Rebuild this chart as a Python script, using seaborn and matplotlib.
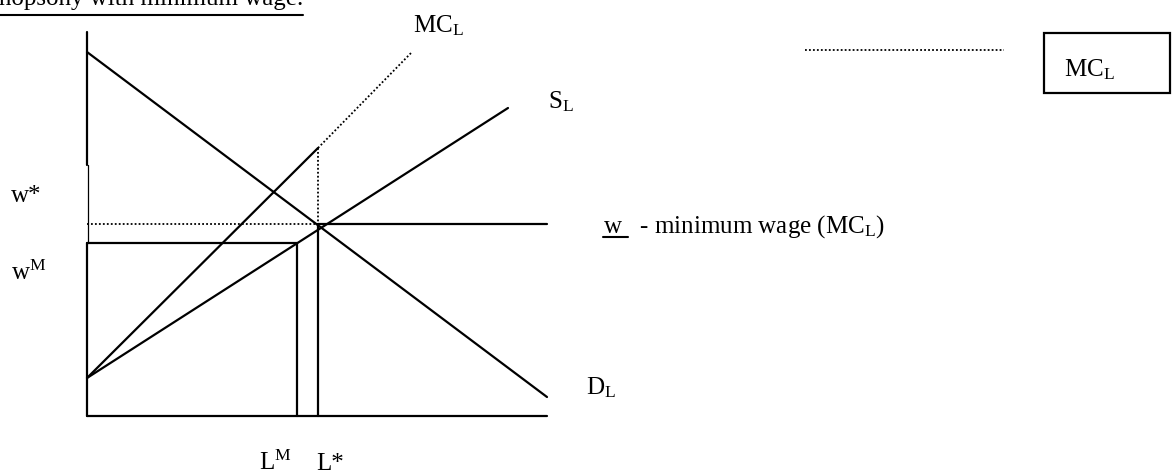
import numpy as np
import pandas as pd
import seaborn as sns
import matplotlib.pyplot as plt
from matplotlib.patches import Rectangle

# monopsony diagram: labour L on x, wage w on y (arbitrary units)
L_max = 46.0
w_top = 38.4
w_thin = 25.1          # y axis is drawn thinner between w_m and this value

demand_L = [0.0, 46.0]
demand_w = [36.4, 1.9]
supply_L = [0.0, 42.1]
supply_w = [3.8, 30.8]
mc_L = [0.0, 23.1]
mc_w = [3.8, 26.8]
mc_dot_L = [23.1, 32.5]
mc_dot_w = [26.8, 36.4]

w_star = 19.2
w_m = 17.3
L_star = 23.1
L_m = 21.0

sns.set_theme(style="white")
plt.rcParams["font.family"] = ["Liberation Serif", "DejaVu Serif"]
plt.rcParams["text.color"] = "black"
plt.rcParams["mathtext.fontset"] = "custom"
plt.rcParams["mathtext.rm"] = "Liberation Serif"
plt.rcParams["mathtext.it"] = "Liberation Serif:italic"

fig = plt.figure(figsize=(11.72, 4.73), dpi=100)
ax = fig.add_axes([0, 0, 1, 1])
# origin of the diagram sits at pixel (87, 416), 10 px per unit
ax.set_xlim(-8.7, 108.5)
ax.set_ylim(-5.7, 41.6)
ax.axis("off")


def px(x, y):
    return (x - 87) / 10, (416 - y) / 10


# solid segments
solid = pd.DataFrame({
    "seg": [0, 0, 1, 1, 2, 2, 3, 3, 4, 4, 5, 5, 6, 6, 7, 7, 8, 8, 9, 9],
    "L": demand_L + supply_L + mc_L
         + [0, L_max] + [0, 0] + [0, 0]
         + [0, L_m] + [L_m, L_m] + [L_star, L_star] + [L_star, L_max],
    "w": demand_w + supply_w + mc_w
         + [0, 0] + [w_thin, w_top] + [0, w_m]
         + [w_m, w_m] + [w_m, 0] + [w_star, 0] + [w_star, w_star],
})
sns.lineplot(data=solid, x="L", y="w", units="seg", estimator=None, sort=False,
             color="black", lw=1.6, ax=ax)

# thin part of the wage axis
sns.lineplot(x=[0.05, 0.05], y=[w_m, w_thin], estimator=None, sort=False,
             color="black", lw=0.9, ax=ax)

# dotted segments
dotted = pd.DataFrame({
    "seg": [0, 0, 1, 1, 2, 2],
    "L": mc_dot_L + [L_star, L_star] + [0, L_star],
    "w": mc_dot_w + [mc_w[1], w_star] + [w_star, w_star],
})
sns.lineplot(data=dotted, x="L", y="w", units="seg", estimator=None, sort=False,
             color="black", lw=1.3, linestyle=(0, (1, 1.2)), ax=ax)

fs = 18
labels = [
    ((413, 32), r"MC$_{\mathrm{L}}$"),
    ((548, 108), r"S$_{\mathrm{L}}$"),
    ((586, 394), r"D$_{\mathrm{L}}$"),
    ((11, 202), "w*"),
    ((11, 280), r"w$^{\mathrm{M}}$"),
    ((259, 470), r"L$^{\mathrm{M}}$"),
    ((316, 470), "L*"),
    ((603, 233), r"w   - minimum wage (MC$_{\mathrm{L}}$)"),
]
for (x, y), s in labels:
    ax.text(*px(x, y), s, fontsize=fs, ha="left", va="baseline")

# underline under the minimum wage symbol
ax.plot(*zip(px(603, 237), px(628, 237)), color="black", lw=1.5)

# title, cut off by the top of the page as in the source
ax.text(*px(303, 5), "Monopsony with minimum wage.", fontsize=fs,
        ha="right", va="baseline", clip_on=False)
ax.plot(*zip(px(0, 15), px(303, 15)), color="black", lw=1.5)

# legend-like key at the top right
ax.plot(*zip(px(805, 50), px(1004, 50)), color="black", lw=1.3,
        linestyle=(0, (1, 1.2)))
x0, y0 = px(1044, 93)
x1, y1 = px(1170, 33)
ax.add_patch(Rectangle((x0, y0), x1 - x0, y1 - y0, fill=False,
                       edgecolor="black", lw=1.6))
ax.text(*px(1064, 76), r"MC$_{\mathrm{L}}$", fontsize=fs, ha="left", va="baseline")

fig.savefig("out.png", dpi=100)
